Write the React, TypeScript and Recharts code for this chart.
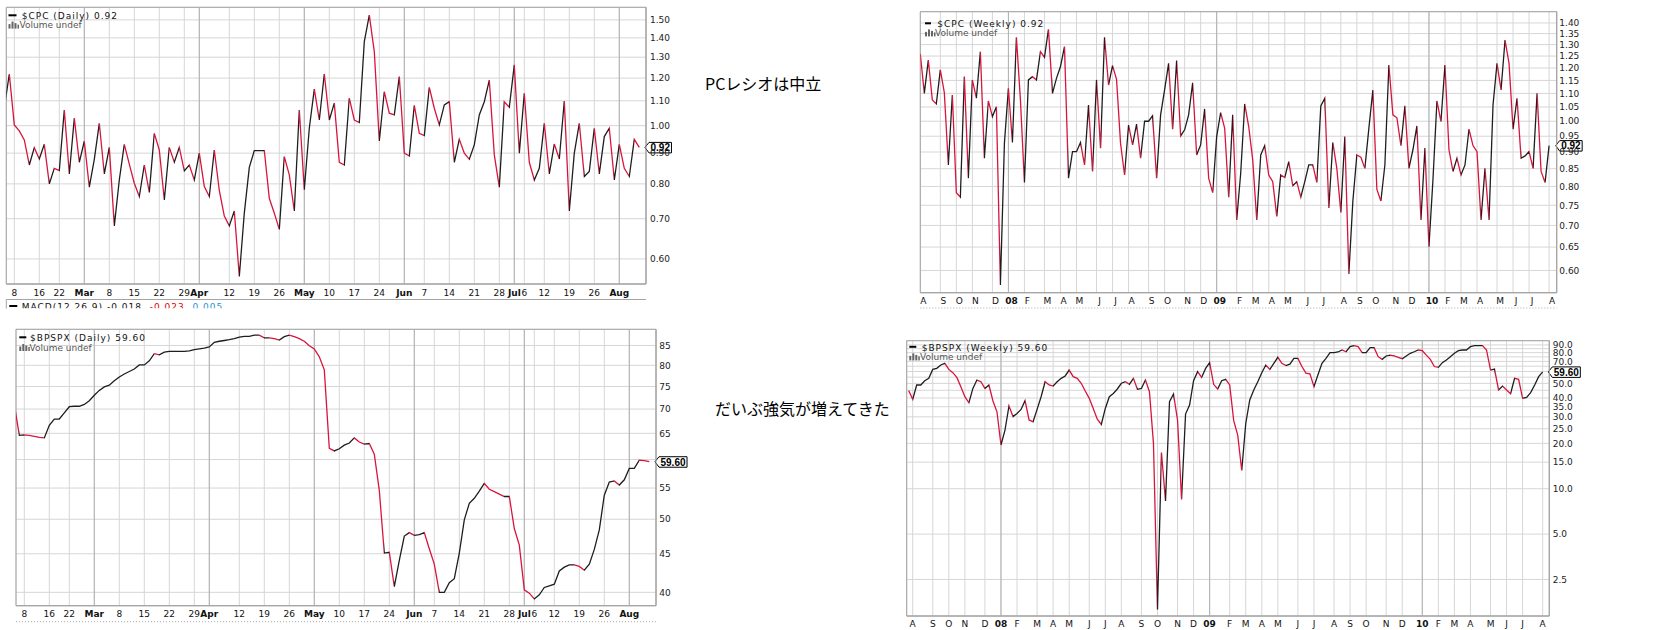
import React from "react";
import { LineChart, Line, XAxis, YAxis, CartesianGrid, ReferenceLine, ReferenceArea } from "recharts";

const RED = "#d8143c";
const BLACK = "#1e1e1e";
const GRID = "#d6d6d6";
const GRID_MAJOR = "#b0b0b0";
const FRAME = "#a4a4a4";
const FONT = "'DejaVu Sans', Verdana, sans-serif";
const TAG_FONT = "'Liberation Sans', Arial, sans-serif";

// daily sessions: index 0 = 2010-02-04 ... 127 = 2010-08-06
const cpcDaily = [
  1.07, 1.219, 1.003, 0.98, 0.947, 0.86, 0.919, 0.88, 0.931, 0.8,
  0.849, 0.842, 1.062, 0.831, 1.029, 0.869, 0.942, 0.79, 0.879, 1.009,
  0.831, 0.92, 0.681, 0.812, 0.931, 0.863, 0.802, 0.762, 0.86, 0.774,
  0.971, 0.911, 0.752, 0.92, 0.869, 0.92, 0.841, 0.86, 0.812, 0.9,
  0.792, 0.762, 0.911, 0.78, 0.707, 0.681, 0.721, 0.561, 0.715, 0.852,
  0.909, 0.909, 0.909, 0.757, 0.715, 0.672, 0.888, 0.828, 0.721, 1.062,
  0.782, 0.99, 1.15, 1.022, 1.219, 1.022, 1.09, 0.869, 0.86, 1.111,
  1.022, 1.012, 1.38, 1.528, 1.328, 0.943, 1.139, 1.049, 1.042, 1.207,
  0.9, 0.89, 1.081, 0.971, 0.963, 1.158, 1.069, 1.003, 1.083, 1.096,
  0.869, 0.949, 0.9, 0.879, 0.929, 1.042, 1.096, 1.191, 0.894, 0.79,
  1.096, 1.073, 1.262, 0.9, 1.132, 0.869, 0.812, 0.849, 1.009, 0.831,
  0.932, 0.88, 1.099, 0.721, 0.9, 1.009, 0.823, 0.839, 0.99, 0.831,
  0.959, 0.99, 0.812, 0.931, 0.849, 0.823, 0.949, 0.92,
];

const bpspxDaily = [
  71, 64.6, 64.7, 64.6, 64.4, 64.2, 64.1, 66.6, 67.9, 67.9,
  69.2, 70.5, 70.6, 70.6, 71.0, 71.8, 73.0, 74.1, 74.9, 75.3,
  76.3, 77.2, 77.9, 78.5, 79.1, 80.1, 80.1, 81.1, 82.9, 82.6,
  83.3, 83.5, 83.5, 83.5, 83.5, 83.6, 83.9, 84.1, 84.3, 84.6,
  85.8, 86.1, 86.3, 86.5, 86.8, 87.2, 87.4, 87.4, 87.7, 87.7,
  87.0, 87.0, 86.8, 86.4, 87.3, 87.7, 87.3, 86.8, 86.1, 84.9,
  84.1, 82.1, 78.9, 62.1, 61.6, 62.0, 62.7, 63.1, 64.1, 63.3,
  62.9, 63.0, 61.0, 54.6, 45.1, 45.2, 40.7, 44.1, 47.5, 48.0,
  47.6, 47.7, 48.0, 45.7, 43.6, 40.0, 40.0, 41.2, 41.7, 45.1,
  49.9, 52.5, 53.3, 54.5, 55.8, 54.8, 54.4, 54.0, 53.6, 53.6,
  48.6, 46.2, 40.3, 39.9, 39.2, 39.7, 40.6, 40.8, 41.0, 42.7,
  43.2, 43.5, 43.5, 43.3, 42.8, 43.6, 45.6, 48.4, 53.8, 56.0,
  56.2, 55.5, 56.4, 58.4, 58.4, 59.9, 59.8, 59.6,
];

const dailyTicks = [2, 7, 11, 16, 21, 26, 31, 36, 39, 45, 50, 55, 60, 65, 70, 75, 80, 84, 89, 94, 99, 102, 104, 108, 113, 118, 123];
const dailyTickLabels = ["8", "16", "22", "Mar", "8", "15", "22", "29", "Apr", "12", "19", "26", "May", "10", "17", "24", "Jun", "7", "14", "21", "28", "Jul", "6", "12", "19", "26", "Aug"];
const dailyMonthTicks = [16, 39, 60, 80, 102, 123];

// weekly: index 0 = week ending 2007-08-03 ... 157 = 2010-08-06
const cpcWeeklyStart = 0;
const cpcWeekly = [
  1.26,
  1.1, 1.233, 1.076, 1.061, 1.192, 1.103, 0.861, 1.094, 0.783, 0.771,
  1.165, 0.823, 1.152, 1.082, 1.269, 0.881, 1.072, 1.016, 1.051, 0.571,
  0.927, 1.119, 0.93, 1.333, 1.076, 0.811, 1.152, 1.165, 1.152, 1.269,
  1.245, 1.37, 1.1, 1.158, 1.206, 1.291, 0.823, 0.901, 0.901, 0.93,
  0.861, 1.057, 0.842, 1.152, 0.912, 1.333, 1.132, 1.21, 1.154, 0.927,
  0.832, 0.987, 0.922, 0.99, 0.881, 1.0, 1.0, 1.019, 0.823, 1.022,
  1.113, 1.219, 0.973, 1.231, 0.951, 0.971, 1.022, 1.141, 0.891, 0.922,
  1.043, 0.823, 0.783, 0.949, 1.03, 0.976, 0.771, 1.022, 0.713, 0.837,
  1.061, 0.982, 0.876, 0.713, 0.891, 0.92, 0.832, 0.813, 0.722, 0.832,
  0.825, 0.871, 0.802, 0.813, 0.771, 0.813, 0.861, 0.861, 0.811, 1.054,
  1.082, 0.743, 0.93, 0.851, 0.732, 0.949, 0.593, 0.76, 0.891, 0.884,
  0.851, 0.976, 1.113, 0.792, 0.761, 0.861, 1.212, 1.022, 1.012, 0.92,
  1.054, 0.851, 0.907, 0.984, 0.713, 0.912, 0.651, 0.818, 1.072, 0.999,
  1.212, 0.907, 0.842, 0.881, 0.832, 0.861, 0.973, 0.92, 0.901, 0.713,
  0.851, 0.713, 1.057, 1.219, 1.113, 1.32, 1.219, 0.973, 1.082, 0.881,
  0.888, 0.901, 0.851, 1.1, 0.842, 0.811, 0.92,
];

const bpspxWeeklyStart = -1;
const bpspxWeekly = [
  44.9,
  39.2, 48.8, 48.8, 52.1, 54.0, 61.9, 62.9, 66.2, 67.9, 61.9,
  58.9, 54.8, 47.5, 40.8, 37.2, 46.3, 52.6, 51.3, 46.3, 48.8,
  38.2, 32.4, 19.5, 24.5, 35.4, 30.1, 31.6, 33.6, 38.4, 28.6,
  27.8, 33.6, 40.8, 51.3, 48.8, 48.0, 51.3, 54.0, 56.0, 61.3,
  55.4, 54.0, 50.1, 44.5, 39.8, 34.1, 28.9, 26.7, 34.1, 40.8,
  42.9, 45.9, 50.1, 51.3, 49.3, 54.0, 45.7, 46.3, 52.6, 44.0,
  20.0, 1.58, 17.4, 8.3, 37.8, 42.5, 28.6, 8.5, 31.3, 35.9,
  52.1, 59.8, 54.8, 62.9, 68.6, 49.3, 45.9, 52.1, 53.2, 48.8,
  28.3, 22.7, 13.2, 27.1, 38.8, 45.2, 51.3, 58.9, 66.2, 61.9,
  67.9, 74.5, 67.9, 65.7, 67.0, 73.3, 73.3, 64.7, 58.5, 57.9,
  47.5, 57.0, 67.9, 73.3, 80.0, 80.0, 80.8, 83.3, 81.1, 87.6,
  89.0, 87.6, 80.0, 80.0, 86.3, 86.3, 75.2, 72.2, 76.0, 77.0,
  76.0, 74.5, 72.9, 76.0, 79.2, 81.1, 83.3, 82.4, 77.0, 72.2,
  64.7, 63.9, 68.6, 71.5, 75.2, 79.2, 82.4, 83.3, 83.3, 87.6,
  89.0, 89.0, 89.0, 83.3, 61.3, 62.2, 45.2, 48.0, 45.2, 42.7,
  54.0, 53.2, 39.8, 40.4, 43.4, 48.8, 55.4, 59.6,
];

const weeklyTicks = [0, 5, 9, 13, 18, 22, 26, 31, 35, 39, 44, 48, 52, 57, 61, 66, 70, 74, 79, 83, 87, 91, 96, 100, 105, 109, 113, 118, 122, 127, 131, 135, 139, 144, 148, 152, 157];
const weeklyTickLabels = ["A", "S", "O", "N", "D", "08", "F", "M", "A", "M", "J", "J", "A", "S", "O", "N", "D", "09", "F", "M", "A", "M", "J", "J", "A", "S", "O", "N", "D", "10", "F", "M", "A", "M", "J", "J", "A"];
const weeklyYearTicks = [22, 74, 127];

const cpcDailyYTicks = [0.6, 0.7, 0.8, 0.9, 1.0, 1.1, 1.2, 1.3, 1.4, 1.5];
const bpspxDailyYTicks = [40, 45, 50, 55, 60, 65, 70, 75, 80, 85];
const bpspxDailyYLabelled = [40, 45, 50, 55, 65, 70, 75, 80, 85];
const cpcWeeklyYTicks = [0.6, 0.65, 0.7, 0.75, 0.8, 0.85, 0.9, 0.95, 1.0, 1.05, 1.1, 1.15, 1.2, 1.25, 1.3, 1.35, 1.4];
const bpspxWeeklyYTicks = [2.5, 5, 10, 15, 20, 25, 30, 35, 40, 45, 50, 55, 60, 65, 70, 75, 80, 85, 90];
const bpspxWeeklyYLabelled = [2.5, 5, 10, 15, 20, 25, 30, 35, 40, 50, 70, 80, 90];

type Spec = {
  id: string;
  left: number;
  top: number;
  width: number;
  height: number;
  margin: { top: number; left: number; right: number; bottom: number };
  values: number[];
  start: number;
  xDomain: [number, number];
  yDomain: [number, number];
  xTicks: number[];
  xLabels: string[];
  majorTicks: number[];
  yTicks: number[];
  yLabelled?: number[];
  yDigits: number;
  yAxisWidth: number;
  xAxisHeight: number;
  xGap: number;
  yGap: number;
  xDx: number;
  tag: string;
};

function TagLabel(props: any) {
  const vb = props.viewBox || {};
  const ax = vb.x + vb.width;
  const y = vb.y;
  const text: string = props.text;
  let tw = 0;
  for (const ch of text) tw += ch === "." ? 2.78 : 5.56;
  const w = tw + 3;
  return (
    <g>
      <polygon
        points={`${ax - 1},${y} ${ax + 3},${y - 5} ${ax + 3 + w},${y - 5} ${ax + 3 + w},${y + 5.5} ${ax + 3},${y + 5.5}`}
        fill="#fff"
        stroke="#000"
        strokeWidth={1}
      />
      <text x={ax + 3 + w / 2} y={y} dy="0.38em" textAnchor="middle" fontFamily={TAG_FONT} fontSize={10} fontWeight={700} fill="#000">
        {text}
      </text>
    </g>
  );
}

function Panel({ s }: { s: Spec }) {
  const rows = s.values.map((v, i) => ({ x: s.start + i, v }));
  const n = s.values.length;
  const stops: React.ReactNode[] = [];
  for (let i = 1; i < n; i++) {
    const c = s.values[i] < s.values[i - 1] ? RED : BLACK;
    stops.push(<stop key={`a${i}`} offset={(i - 1) / (n - 1)} stopColor={c} />);
    stops.push(<stop key={`b${i}`} offset={i / (n - 1)} stopColor={c} />);
  }
  const last = s.values[n - 1];

  const xTick = (p: any) => {
    const i = s.xTicks.findIndex((t) => Math.abs(t - p.payload.value) < 1e-6);
    if (i < 0) return <g />;
    const major = s.majorTicks.includes(s.xTicks[i]);
    return (
      <text x={p.x + s.xDx} y={p.y} dy="0.73em" textAnchor="middle" fontFamily={FONT} fontSize={9} fontWeight={major ? 700 : 400} fill="#111">
        {s.xLabels[i]}
      </text>
    );
  };
  const yTick = (p: any) => {
    const v = p.payload.value;
    if (s.yLabelled && !s.yLabelled.some((l) => Math.abs(l - v) < 1e-9)) return <g />;
    return (
      <text x={p.x} y={p.y} dy="0.36em" textAnchor="start" fontFamily={FONT} fontSize={9} fill="#222">
        {v.toFixed(s.yDigits)}
      </text>
    );
  };

  return (
    <div style={{ position: "absolute", left: s.left, top: s.top }}>
      <LineChart width={s.width} height={s.height} data={rows} margin={s.margin}>
        <defs>
          <linearGradient id={`${s.id}-seg`} x1="0" y1="0" x2="1" y2="0">
            {stops}
          </linearGradient>
        </defs>
        <CartesianGrid stroke={GRID} />
        {s.majorTicks.map((t) => (
          <ReferenceLine key={t} x={t} stroke={GRID_MAJOR} />
        ))}
        <XAxis
          type="number"
          dataKey="x"
          domain={s.xDomain}
          allowDataOverflow
          ticks={s.xTicks}
          interval={0}
          height={s.xAxisHeight}
          tickLine={false}
          axisLine={{ stroke: FRAME }}
          tickSize={0}
          tickMargin={s.xGap}
          tick={xTick}
        />
        <YAxis
          orientation="right"
          scale="log"
          domain={s.yDomain}
          allowDataOverflow
          ticks={s.yTicks}
          interval={0}
          width={s.yAxisWidth}
          tickLine={false}
          axisLine={{ stroke: FRAME }}
          tickSize={0}
          tickMargin={s.yGap}
          tick={yTick}
        />
        <ReferenceArea x1={s.xDomain[0]} x2={s.xDomain[1]} y1={s.yDomain[0]} y2={s.yDomain[1]} fill="none" stroke={FRAME} ifOverflow="visible" />
        <Line type="linear" dataKey="v" stroke={`url(#${s.id}-seg)`} strokeWidth={1.3} dot={false} activeDot={false} isAnimationActive={false} />
        <ReferenceLine y={last} stroke="none" label={<TagLabel text={s.tag} />} />
      </LineChart>
    </div>
  );
}

const specs: Spec[] = [
  {
    id: "cpcd", left: 0, top: 0, width: 700, height: 300,
    margin: { top: 7.3, left: 6.3, right: 0, bottom: 0 },
    values: cpcDaily, start: 0, xDomain: [0.4, 128.34], yDomain: [0.545, 1.574],
    xTicks: dailyTicks, xLabels: dailyTickLabels, majorTicks: dailyMonthTicks,
    yTicks: cpcDailyYTicks, yDigits: 2, yAxisWidth: 54, xAxisHeight: 16, xGap: 5.3, yGap: 4, xDx: 0, tag: "0.92",
  },
  {
    id: "bpd", left: 0, top: 300, width: 700, height: 322,
    margin: { top: 29.3, left: 16, right: 0, bottom: 0 },
    values: bpspxDaily, start: 0, xDomain: [0.34, 128.34], yDomain: [38.4, 89.3],
    xTicks: dailyTicks, xLabels: dailyTickLabels, majorTicks: dailyMonthTicks,
    yTicks: bpspxDailyYTicks, yLabelled: bpspxDailyYLabelled, yDigits: 0, yAxisWidth: 44, xAxisHeight: 16.3, xGap: 5, yGap: 3.3, xDx: 0, tag: "59.60",
  },
  {
    id: "cpcw", left: 900, top: 0, width: 700, height: 310,
    margin: { top: 11.7, left: 20.3, right: 0, bottom: 0 },
    values: cpcWeekly, start: cpcWeeklyStart, xDomain: [0, 158.9], yDomain: [0.556, 1.455],
    xTicks: weeklyTicks, xLabels: weeklyTickLabels, majorTicks: weeklyYearTicks,
    yTicks: cpcWeeklyYTicks, yDigits: 2, yAxisWidth: 43.3, xAxisHeight: 17.3, xGap: 4.6, yGap: 2.6, xDx: 3, tag: "0.92",
  },
  {
    id: "bpw", left: 890, top: 320, width: 710, height: 310,
    margin: { top: 20.7, left: 16.7, right: 0, bottom: 0 },
    values: bpspxWeekly, start: bpspxWeeklyStart, xDomain: [-1.495, 158.65], yDomain: [1.43, 96.0],
    xTicks: weeklyTicks, xLabels: weeklyTickLabels, majorTicks: weeklyYearTicks,
    yTicks: bpspxWeeklyYTicks, yLabelled: bpspxWeeklyYLabelled, yDigits: 1, yAxisWidth: 50.7, xAxisHeight: 14, xGap: 4, yGap: 3.4, xDx: 0, tag: "59.60",
  },
];

function VolIcon({ x, y }: { x: number; y: number }) {
  return (
    <g fill="#666">
      <rect x={x} y={y + 2.5} width={2} height={4.5} />
      <rect x={x + 3} y={y} width={2} height={7} />
      <rect x={x + 6} y={y + 1.5} width={2} height={5.5} />
      <rect x={x + 9} y={y + 3} width={1.5} height={4} />
    </g>
  );
}

function Title(props: { dx: number; dy: number; tx: number; ty: number; text: string; vx: number; vy: number; dashW: number }) {
  const { dx, dy, tx, ty, text, vx, vy, dashW } = props;
  return (
    <g>
      <rect x={dx} y={dy} width={dashW} height={2} fill="#000" />
      <text x={tx} y={ty} fontFamily={FONT} fontSize={9} letterSpacing={1} fill="#111">
        {text}
      </text>
      <VolIcon x={dx} y={vy - 6.8} />
      <text x={vx} y={vy} fontFamily={FONT} fontSize={9} fill="#555">
        Volume undef
      </text>
    </g>
  );
}

function Overlay() {
  return (
    <svg width={1674} height={630} style={{ position: "absolute", left: 0, top: 0, pointerEvents: "none" }}>
      <defs>
        <clipPath id="macd-clip">
          <rect x={0} y={299} width={700} height={9.3} />
        </clipPath>
      </defs>
      <Title dx={8.5} dy={14.3} dashW={8} tx={21.7} ty={19} text="$CPC (Daily) 0.92" vx={19.5} vy={28.4} />
      <Title dx={925} dy={22.3} dashW={6} tx={937.3} ty={26.8} text="$CPC (Weekly) 0.92" vx={935} vy={36.2} />
      <Title dx={19.3} dy={336.3} dashW={7} tx={30} ty={340.8} text="$BPSPX (Daily) 59.60" vx={29.5} vy={350.8} />
      <Title dx={909.3} dy={345.8} dashW={7} tx={921.7} ty={350.5} text="$BPSPX (Weekly) 59.60" vx={920} vy={360.2} />

      <line x1={6.3} y1={299.5} x2={646} y2={299.5} stroke={FRAME} />
      <line x1={6.3} y1={299.5} x2={6.3} y2={308.5} stroke={FRAME} />
      <g clipPath="url(#macd-clip)">
        <rect x={9.3} y={305} width={8} height={2} fill="#000" />
        <text x={21.7} y={309.7} fontFamily={FONT} fontSize={9} letterSpacing={1} fill="#111">
          MACD(12,26,9) -0.018,
          <tspan fill="#e00000"> -0.023,</tspan>
          <tspan fill="#2a8fd0"> 0.005</tspan>
        </text>
      </g>
      <line x1={16} y1={621.7} x2={656} y2={621.7} stroke="#aaa" strokeDasharray="1 2" />
      <line x1={920.3} y1={308} x2={1556.7} y2={308} stroke="#aaa" strokeDasharray="1 2" />

      <text x={705} y={89.5} fontFamily="'Noto Sans CJK JP', sans-serif" fontSize={16} fill="#000">
        PCレシオは中立
      </text>
      <text x={715} y={414.5} fontFamily="'Noto Sans CJK JP', sans-serif" fontSize={16} fill="#000">
        だいぶ強気が増えてきた
      </text>
    </svg>
  );
}

export default function App() {
  return (
    <div style={{ position: "absolute", left: 0, top: 0, width: 1674, height: 630, background: "#fff", overflow: "hidden" }}>
      {specs.map((s) => (
        <Panel key={s.id} s={s} />
      ))}
      <Overlay />
    </div>
  );
}
